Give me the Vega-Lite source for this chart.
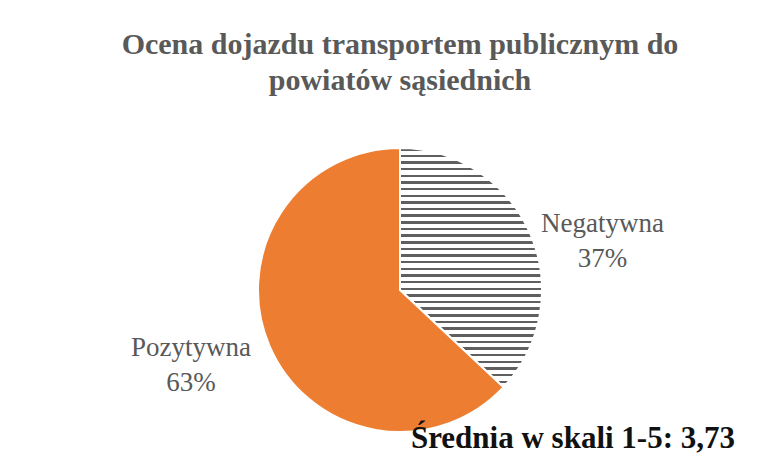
{
  "$schema": "https://vega.github.io/schema/vega-lite/v6.json",
  "background": "white",
  "padding": {"left": 65, "top": 30, "right": 48, "bottom": 10},
  "title": {
    "text": ["Ocena dojazdu transportem publicznym  do", "powiatów sąsiednich"],
    "font": "Liberation Serif",
    "fontSize": 30,
    "fontWeight": "bold",
    "color": "#595959",
    "lineHeight": 36,
    "anchor": "middle",
    "offset": 48
  },
  "vconcat": [
    {
      "width": 670,
      "height": 284,
      "title": {
        "text": "Średnia w skali 1-5: 3,73",
        "orient": "bottom",
        "anchor": "end",
        "frame": "group",
        "baseline": "alphabetic",
        "offset": 12,
        "font": "Liberation Serif",
        "fontSize": 31,
        "fontWeight": "bold",
        "color": "#111111"
      },
      "data": {
        "values": [
          {"ocena": "Negatywna", "procent": 37},
          {"ocena": "Pozytywna", "procent": 63}
        ]
      },
      "transform": [
        {"calculate": "[datum.ocena, datum.procent + '%']", "as": "label"}
      ],
      "layer": [
        {
          "mark": {"type": "arc", "stroke": "white", "strokeWidth": 2},
          "encoding": {
            "theta": {"field": "procent", "type": "quantitative", "stack": true},
            "order": {"field": "ocena", "type": "ordinal", "sort": "ascending"},
            "fill": {
              "condition": {
                "test": "datum.ocena === 'Negatywna'",
                "value": {
                  "gradient": "linear", "x1": 0, "y1": 0, "x2": 0, "y2": 1,
                  "stops": [
                    {"offset": 0.0000, "color": "#5f5f5f"}, {"offset": 0.0105, "color": "#5f5f5f"}, {"offset": 0.0105, "color": "#ffffff"}, {"offset": 0.0278, "color": "#ffffff"},
                    {"offset": 0.0278, "color": "#5f5f5f"}, {"offset": 0.0383, "color": "#5f5f5f"}, {"offset": 0.0383, "color": "#ffffff"}, {"offset": 0.0556, "color": "#ffffff"},
                    {"offset": 0.0556, "color": "#5f5f5f"}, {"offset": 0.0661, "color": "#5f5f5f"}, {"offset": 0.0661, "color": "#ffffff"}, {"offset": 0.0833, "color": "#ffffff"},
                    {"offset": 0.0833, "color": "#5f5f5f"}, {"offset": 0.0938, "color": "#5f5f5f"}, {"offset": 0.0938, "color": "#ffffff"}, {"offset": 0.1111, "color": "#ffffff"},
                    {"offset": 0.1111, "color": "#5f5f5f"}, {"offset": 0.1216, "color": "#5f5f5f"}, {"offset": 0.1216, "color": "#ffffff"}, {"offset": 0.1389, "color": "#ffffff"},
                    {"offset": 0.1389, "color": "#5f5f5f"}, {"offset": 0.1494, "color": "#5f5f5f"}, {"offset": 0.1494, "color": "#ffffff"}, {"offset": 0.1667, "color": "#ffffff"},
                    {"offset": 0.1667, "color": "#5f5f5f"}, {"offset": 0.1772, "color": "#5f5f5f"}, {"offset": 0.1772, "color": "#ffffff"}, {"offset": 0.1944, "color": "#ffffff"},
                    {"offset": 0.1944, "color": "#5f5f5f"}, {"offset": 0.2049, "color": "#5f5f5f"}, {"offset": 0.2049, "color": "#ffffff"}, {"offset": 0.2222, "color": "#ffffff"},
                    {"offset": 0.2222, "color": "#5f5f5f"}, {"offset": 0.2327, "color": "#5f5f5f"}, {"offset": 0.2327, "color": "#ffffff"}, {"offset": 0.2500, "color": "#ffffff"},
                    {"offset": 0.2500, "color": "#5f5f5f"}, {"offset": 0.2605, "color": "#5f5f5f"}, {"offset": 0.2605, "color": "#ffffff"}, {"offset": 0.2778, "color": "#ffffff"},
                    {"offset": 0.2778, "color": "#5f5f5f"}, {"offset": 0.2883, "color": "#5f5f5f"}, {"offset": 0.2883, "color": "#ffffff"}, {"offset": 0.3056, "color": "#ffffff"},
                    {"offset": 0.3056, "color": "#5f5f5f"}, {"offset": 0.3161, "color": "#5f5f5f"}, {"offset": 0.3161, "color": "#ffffff"}, {"offset": 0.3333, "color": "#ffffff"},
                    {"offset": 0.3333, "color": "#5f5f5f"}, {"offset": 0.3438, "color": "#5f5f5f"}, {"offset": 0.3438, "color": "#ffffff"}, {"offset": 0.3611, "color": "#ffffff"},
                    {"offset": 0.3611, "color": "#5f5f5f"}, {"offset": 0.3716, "color": "#5f5f5f"}, {"offset": 0.3716, "color": "#ffffff"}, {"offset": 0.3889, "color": "#ffffff"},
                    {"offset": 0.3889, "color": "#5f5f5f"}, {"offset": 0.3994, "color": "#5f5f5f"}, {"offset": 0.3994, "color": "#ffffff"}, {"offset": 0.4167, "color": "#ffffff"},
                    {"offset": 0.4167, "color": "#5f5f5f"}, {"offset": 0.4272, "color": "#5f5f5f"}, {"offset": 0.4272, "color": "#ffffff"}, {"offset": 0.4444, "color": "#ffffff"},
                    {"offset": 0.4444, "color": "#5f5f5f"}, {"offset": 0.4549, "color": "#5f5f5f"}, {"offset": 0.4549, "color": "#ffffff"}, {"offset": 0.4722, "color": "#ffffff"},
                    {"offset": 0.4722, "color": "#5f5f5f"}, {"offset": 0.4827, "color": "#5f5f5f"}, {"offset": 0.4827, "color": "#ffffff"}, {"offset": 0.5000, "color": "#ffffff"},
                    {"offset": 0.5000, "color": "#5f5f5f"}, {"offset": 0.5105, "color": "#5f5f5f"}, {"offset": 0.5105, "color": "#ffffff"}, {"offset": 0.5278, "color": "#ffffff"},
                    {"offset": 0.5278, "color": "#5f5f5f"}, {"offset": 0.5383, "color": "#5f5f5f"}, {"offset": 0.5383, "color": "#ffffff"}, {"offset": 0.5556, "color": "#ffffff"},
                    {"offset": 0.5556, "color": "#5f5f5f"}, {"offset": 0.5661, "color": "#5f5f5f"}, {"offset": 0.5661, "color": "#ffffff"}, {"offset": 0.5833, "color": "#ffffff"},
                    {"offset": 0.5833, "color": "#5f5f5f"}, {"offset": 0.5938, "color": "#5f5f5f"}, {"offset": 0.5938, "color": "#ffffff"}, {"offset": 0.6111, "color": "#ffffff"},
                    {"offset": 0.6111, "color": "#5f5f5f"}, {"offset": 0.6216, "color": "#5f5f5f"}, {"offset": 0.6216, "color": "#ffffff"}, {"offset": 0.6389, "color": "#ffffff"},
                    {"offset": 0.6389, "color": "#5f5f5f"}, {"offset": 0.6494, "color": "#5f5f5f"}, {"offset": 0.6494, "color": "#ffffff"}, {"offset": 0.6667, "color": "#ffffff"},
                    {"offset": 0.6667, "color": "#5f5f5f"}, {"offset": 0.6772, "color": "#5f5f5f"}, {"offset": 0.6772, "color": "#ffffff"}, {"offset": 0.6944, "color": "#ffffff"},
                    {"offset": 0.6944, "color": "#5f5f5f"}, {"offset": 0.7049, "color": "#5f5f5f"}, {"offset": 0.7049, "color": "#ffffff"}, {"offset": 0.7222, "color": "#ffffff"},
                    {"offset": 0.7222, "color": "#5f5f5f"}, {"offset": 0.7327, "color": "#5f5f5f"}, {"offset": 0.7327, "color": "#ffffff"}, {"offset": 0.7500, "color": "#ffffff"},
                    {"offset": 0.7500, "color": "#5f5f5f"}, {"offset": 0.7605, "color": "#5f5f5f"}, {"offset": 0.7605, "color": "#ffffff"}, {"offset": 0.7778, "color": "#ffffff"},
                    {"offset": 0.7778, "color": "#5f5f5f"}, {"offset": 0.7883, "color": "#5f5f5f"}, {"offset": 0.7883, "color": "#ffffff"}, {"offset": 0.8056, "color": "#ffffff"},
                    {"offset": 0.8056, "color": "#5f5f5f"}, {"offset": 0.8161, "color": "#5f5f5f"}, {"offset": 0.8161, "color": "#ffffff"}, {"offset": 0.8333, "color": "#ffffff"},
                    {"offset": 0.8333, "color": "#5f5f5f"}, {"offset": 0.8438, "color": "#5f5f5f"}, {"offset": 0.8438, "color": "#ffffff"}, {"offset": 0.8611, "color": "#ffffff"},
                    {"offset": 0.8611, "color": "#5f5f5f"}, {"offset": 0.8716, "color": "#5f5f5f"}, {"offset": 0.8716, "color": "#ffffff"}, {"offset": 0.8889, "color": "#ffffff"},
                    {"offset": 0.8889, "color": "#5f5f5f"}, {"offset": 0.8994, "color": "#5f5f5f"}, {"offset": 0.8994, "color": "#ffffff"}, {"offset": 0.9167, "color": "#ffffff"},
                    {"offset": 0.9167, "color": "#5f5f5f"}, {"offset": 0.9272, "color": "#5f5f5f"}, {"offset": 0.9272, "color": "#ffffff"}, {"offset": 0.9444, "color": "#ffffff"},
                    {"offset": 0.9444, "color": "#5f5f5f"}, {"offset": 0.9549, "color": "#5f5f5f"}, {"offset": 0.9549, "color": "#ffffff"}, {"offset": 0.9722, "color": "#ffffff"},
                    {"offset": 0.9722, "color": "#5f5f5f"}, {"offset": 0.9827, "color": "#5f5f5f"}, {"offset": 0.9827, "color": "#ffffff"}, {"offset": 1.0000, "color": "#ffffff"}
                  ]
                }
              },
              "value": "#ED7D31"
            }
          }
        },
        {
          "mark": {"type": "text", "radius": 213, "thetaOffset": 0.094, "font": "Liberation Serif", "fontSize": 27, "color": "#595959", "lineHeight": 35, "align": "center", "baseline": "middle"},
          "encoding": {
            "theta": {"field": "procent", "type": "quantitative", "stack": true},
            "order": {"field": "ocena", "type": "ordinal", "sort": "ascending"},
            "text": {"condition": {"test": "datum.ocena === 'Negatywna'", "field": "label", "type": "nominal"}, "value": ""}
          }
        },
        {
          "mark": {"type": "text", "radius": 217, "thetaOffset": 0.136, "font": "Liberation Serif", "fontSize": 27, "color": "#595959", "lineHeight": 35, "align": "center", "baseline": "middle"},
          "encoding": {
            "theta": {"field": "procent", "type": "quantitative", "stack": true},
            "order": {"field": "ocena", "type": "ordinal", "sort": "ascending"},
            "text": {"condition": {"test": "datum.ocena === 'Pozytywna'", "field": "label", "type": "nominal"}, "value": ""}
          }
        }
      ]
    }
  ]
}
